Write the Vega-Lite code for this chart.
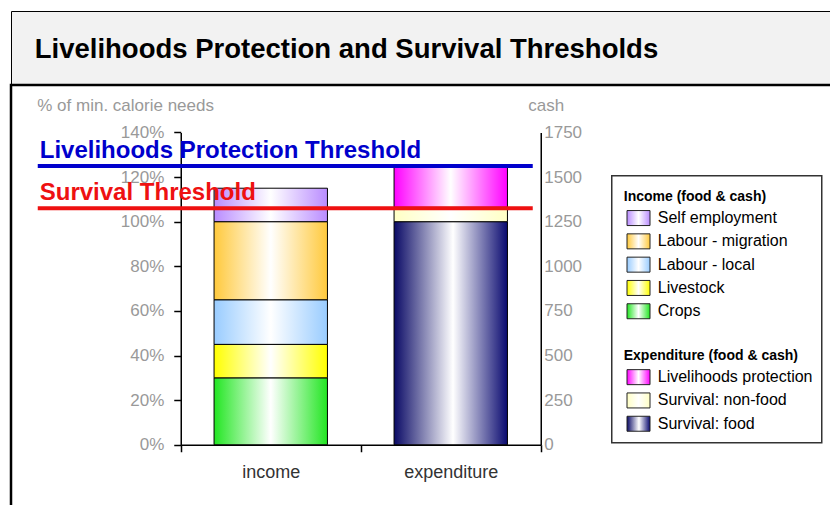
{
  "$schema": "https://vega.github.io/schema/vega-lite/v6.json",
  "padding": {"left": 9, "top": 10, "right": -6, "bottom": -6},
  "background": "white",
  "spacing": -3,
  "config": {"font": "Liberation Sans", "concat": {"spacing": -3}},
  "datasets": {
    "heading": [{"title": "Livelihoods Protection and Survival Thresholds"}],
    "income": [
      {"bar": "income", "source": "Crops", "share": 0.30, "seq": 1},
      {"bar": "income", "source": "Livestock", "share": 0.15, "seq": 2},
      {"bar": "income", "source": "Labour - local", "share": 0.20, "seq": 3},
      {"bar": "income", "source": "Labour - migration", "share": 0.35, "seq": 4},
      {"bar": "income", "source": "Self employment", "share": 0.15, "seq": 5}
    ],
    "expenditure": [
      {"bar": "expenditure", "source": "Survival: food", "cash": 1250, "seq": 1},
      {"bar": "expenditure", "source": "Survival: non-food", "cash": 80, "seq": 2},
      {"bar": "expenditure", "source": "Livelihoods protection", "cash": 230, "seq": 3}
    ],
    "thresholds": [
      {"threshold": "Livelihoods Protection Threshold", "level": 1.25},
      {"threshold": "Survival Threshold", "level": 1.06}
    ]
  },
  "vconcat": [
    {
      "width": 824,
      "height": 73,
      "view": {"fill": "#f2f2f2", "stroke": "black", "strokeWidth": 1},
      "data": {"name": "heading"},
      "mark": {"type": "text", "fontSize": 27.5, "fontWeight": "bold", "align": "left", "baseline": "middle", "color": "black", "dy": 2},
      "encoding": {
        "text": {"field": "title", "type": "nominal"},
        "x": {"datum": 0, "type": "quantitative", "scale": {"domain": [0, 1], "range": [23.75, 818]}, "axis": null}
      }
    },
    {
      "width": 824,
      "height": 424,
      "view": {"fill": "white", "stroke": "black", "strokeWidth": 2.5},
      "layer": [
        {
          "data": {"name": "income"},
          "mark": {"type": "bar", "stroke": "black", "strokeWidth": 1, "width": {"band": 0.63}},
          "encoding": {
            "x": {
              "field": "bar", "type": "nominal",
              "scale": {"domain": ["income", "expenditure"], "range": [169.75, 529.75], "paddingInner": 0, "paddingOuter": 0},
              "axis": {
                "title": null, "orient": "bottom", "offset": -64.25, "tickBand": "extent",
                "domainColor": "black", "domainWidth": 1.5, "tickColor": "black", "tickWidth": 1.5, "tickSize": 7,
                "labelColor": "#333333", "labelFontSize": 18, "labelPadding": 12, "labelAngle": 0
              }
            },
            "y": {
              "field": "share", "type": "quantitative", "stack": "zero",
              "scale": {"domain": [0, 1.4], "range": [359.75, 47.45]},
              "axis": {
                "title": "% of min. calorie needs", "orient": "left", "offset": -169.75,
                "values": [0, 0.2, 0.4, 0.6, 0.8, 1, 1.2, 1.4], "format": ".0%", "grid": false,
                "domainColor": "black", "domainWidth": 1.5, "tickColor": "black", "tickWidth": 1.5, "tickSize": 7,
                "labelColor": "#999999", "labelFontSize": 17, "labelPadding": 10, "labelFlush": false, "labelOverlap": false,
                "titleAngle": 0, "titleAlign": "left", "titleBaseline": "alphabetic", "titleX": -144, "titleY": 25.75,
                "titleColor": "#999999", "titleFontSize": 17, "titleFontWeight": "normal"
              }
            },
            "fill": {
              "field": "source", "type": "nominal",
              "scale": {
                "domain": ["Income (food & cash)", "Self employment", "Labour - migration", "Labour - local", "Livestock", "Crops", " ", "Expenditure (food & cash)", "Livelihoods protection", "Survival: non-food", "Survival: food"],
                "range": [
                  "transparent",
                  {"expr": "{gradient:'linear',x1:0,y1:0,x2:1,y2:0,stops:[{offset:0,color:'#b98cff'},{offset:0.5,color:'#ffffff'},{offset:1,color:'#b98cff'}]}"},
                  {"expr": "{gradient:'linear',x1:0,y1:0,x2:1,y2:0,stops:[{offset:0,color:'#ffc93c'},{offset:0.5,color:'#ffffff'},{offset:1,color:'#ffc93c'}]}"},
                  {"expr": "{gradient:'linear',x1:0,y1:0,x2:1,y2:0,stops:[{offset:0,color:'#99ccff'},{offset:0.5,color:'#ffffff'},{offset:1,color:'#99ccff'}]}"},
                  {"expr": "{gradient:'linear',x1:0,y1:0,x2:1,y2:0,stops:[{offset:0,color:'#ffff00'},{offset:0.5,color:'#ffffff'},{offset:1,color:'#ffff00'}]}"},
                  {"expr": "{gradient:'linear',x1:0,y1:0,x2:1,y2:0,stops:[{offset:0,color:'#22e622'},{offset:0.5,color:'#ffffff'},{offset:1,color:'#22e622'}]}"},
                  "transparent",
                  "transparent",
                  {"expr": "{gradient:'linear',x1:0,y1:0,x2:1,y2:0,stops:[{offset:0,color:'#ff00ff'},{offset:0.5,color:'#ffffff'},{offset:1,color:'#ff00ff'}]}"},
                  {"expr": "{gradient:'linear',x1:0,y1:0,x2:1,y2:0,stops:[{offset:0,color:'#ffffc4'},{offset:0.5,color:'#ffffff'},{offset:1,color:'#ffffc4'}]}"},
                  {"expr": "{gradient:'linear',x1:0,y1:0,x2:1,y2:0,stops:[{offset:0,color:'#0a0a66'},{offset:0.52,color:'#ffffff'},{offset:1,color:'#0a0a70'}]}"}
                ]
              },
              "legend": {
                "title": null, "orient": "none", "legendX": 600.75, "legendY": 164.75,
                "padding": 9, "strokeColor": "#333333", "fillColor": "white",
                "symbolType": "M-0.5,-0.652H1.5V0.652H-0.5Z", "symbolSize": 529,
                "symbolStrokeColor": "#222222", "symbolStrokeWidth": 1,
                "labelFontSize": 16, "labelColor": "black", "labelOffset": 13, "labelLimit": 400, "rowPadding": 1.3,
                "encode": {
                  "legend": {"update": {"strokeWidth": {"value": 1.5}}},
                  "symbols": {"update": {"opacity": {"signal": "indexof(['Income (food & cash)', ' ', 'Expenditure (food & cash)'], datum.value) >= 0 ? 0 : 1"}}},
                  "labels": {"update": {
                    "fontWeight": {"signal": "indexof(['Income (food & cash)', 'Expenditure (food & cash)'], datum.value) >= 0 ? 'bold' : 'normal'"},
                    "fontSize": {"signal": "indexof(['Income (food & cash)', 'Expenditure (food & cash)'], datum.value) >= 0 ? 14 : 16"},
                    "dx": {"signal": "indexof(['Income (food & cash)', 'Expenditure (food & cash)'], datum.value) >= 0 ? -34 : 0"}
                  }}
                }
              }
            },
            "order": {"field": "seq", "type": "quantitative"}
          }
        },
        {
          "data": {"name": "expenditure"},
          "mark": {"type": "bar", "stroke": "black", "strokeWidth": 1, "width": {"band": 0.63}},
          "encoding": {
            "x": {
              "field": "bar", "type": "nominal",
              "scale": {"domain": ["income", "expenditure"], "range": [169.75, 529.75], "paddingInner": 0, "paddingOuter": 0},
              "axis": null
            },
            "y": {
              "field": "cash", "type": "quantitative", "stack": "zero",
              "scale": {"domain": [0, 1750], "range": [359.75, 47.45]},
              "axis": {
                "title": "cash", "orient": "right", "offset": -294.25,
                "values": [0, 250, 500, 750, 1000, 1250, 1500, 1750], "format": "d", "grid": false,
                "ticks": false, "tickSize": 0,
                "domainColor": "black", "domainWidth": 1.5,
                "labelColor": "#999999", "labelFontSize": 17, "labelPadding": 3, "labelFlush": false, "labelOverlap": false,
                "titleAngle": 0, "titleAlign": "left", "titleBaseline": "alphabetic", "titleX": -13, "titleY": 25.75,
                "titleColor": "#999999", "titleFontSize": 17, "titleFontWeight": "normal"
              }
            },
            "fill": {"field": "source", "type": "nominal"},
            "order": {"field": "seq", "type": "quantitative"}
          }
        },
        {
          "data": {"name": "thresholds"},
          "mark": {"type": "rule", "strokeWidth": 4},
          "encoding": {
            "x": {"datum": 0, "type": "quantitative", "scale": {"domain": [0, 1], "range": [26.75, 521.75]}, "axis": null},
            "x2": {"datum": 1},
            "y": {"field": "level", "type": "quantitative", "scale": {"domain": [0, 1.4], "range": [359.75, 47.45]}, "axis": null},
            "color": {"field": "threshold", "type": "nominal", "scale": {"domain": ["Livelihoods Protection Threshold", "Survival Threshold"], "range": ["#0000cc", "#ee1111"]}, "legend": null}
          }
        },
        {
          "data": {"name": "thresholds"},
          "mark": {"type": "text", "align": "left", "baseline": "alphabetic", "dx": 2, "dy": -8, "fontSize": 24, "fontWeight": "bold"},
          "encoding": {
            "x": {"datum": 0, "type": "quantitative", "scale": {"domain": [0, 1], "range": [26.75, 521.75]}, "axis": null},
            "y": {"field": "level", "type": "quantitative", "scale": {"domain": [0, 1.4], "range": [359.75, 47.45]}, "axis": null},
            "text": {"field": "threshold", "type": "nominal"},
            "color": {"field": "threshold", "type": "nominal", "scale": {"domain": ["Livelihoods Protection Threshold", "Survival Threshold"], "range": ["#0000cc", "#ee1111"]}, "legend": null}
          }
        }
      ],
      "resolve": {
        "scale": {"x": "independent", "y": "independent"},
        "axis": {"x": "independent", "y": "independent"}
      }
    }
  ]
}
